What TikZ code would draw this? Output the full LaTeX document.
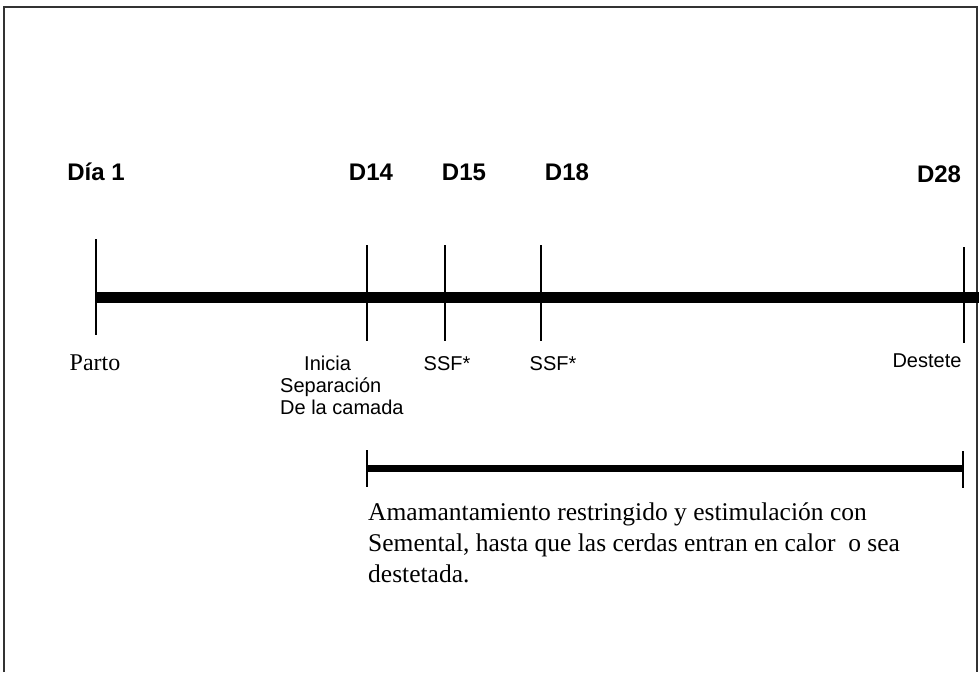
\documentclass[tikz,border=0pt]{standalone}
\usepackage{fontspec}
\setmainfont{Liberation Serif}
\setsansfont{Liberation Sans}
\usetikzlibrary{positioning}

\begin{document}
\begin{tikzpicture}[
  x=1pt, y=-1pt,
  day/.style={font=\sffamily\bfseries\fontsize{24}{26}\selectfont, anchor=base, inner sep=0pt},
  evt/.style={font=\sffamily\fontsize{20}{22}\selectfont, anchor=base, inner sep=0pt},
  note/.style={font=\fontsize{24}{26}\selectfont, anchor=base, inner sep=0pt},
  tick/.style={line width=1.2pt},
  bar/.style={line width=11pt},
  frame/.style={line width=1.2pt, black!80}
]
\useasboundingbox (0,0) rectangle (979,672);

% frame, open at the bottom
\draw[frame] (4,672) -- (4,7) -- (977,7) -- (977,672);

% days above the line
\node[day] (dia1) at (96,180) {Día 1};
\node[day] (d14) at (371,180) {D14};
\node[day] (d15) at (464,180) {D15};
\node[day] (d18) at (567,180) {D18};
\node[day] (d28) at (939,182) {D28};

% main time line
\coordinate (start) at (96,297);
\coordinate (stop) at (979,297);
\draw[bar] (start) -- (stop);

% ticks
\coordinate (t1top) at (96,239);  \coordinate (t1bot) at (96,335);
\coordinate (t14top) at (367,245); \coordinate (t14bot) at (367,341);
\coordinate (t15top) at (445,245); \coordinate (t15bot) at (445,341);
\coordinate (t18top) at (541,245); \coordinate (t18bot) at (541,341);
\coordinate (t28top) at (964,247); \coordinate (t28bot) at (964,343);
\draw[tick] (t1top) -- (t1bot);
\draw[tick] (t14top) -- (t14bot);
\draw[tick] (t15top) -- (t15bot);
\draw[tick] (t18top) -- (t18bot);
\draw[tick] (t28top) -- (t28bot);

% events below the line
\node[note] (parto) at (95,370) {Parto};
\node[evt, anchor=north west, align=left] (sep) at (280,356) {\hspace*{24pt}Inicia\\Separación\\De la camada};
\node[evt] (ssf1) at (447,370) {SSF*};
\node[evt] (ssf2) at (553,370) {SSF*};
\node[evt] (destete) at (927,367) {Destete};

% restricted nursing period
\coordinate (p1) at (367,468);
\coordinate (p2) at (963,468);
\coordinate (p1top) at (367,450); \coordinate (p1bot) at (367,487);
\coordinate (p2top) at (963,451); \coordinate (p2bot) at (963,488);
\draw[line width=7pt] (p1) -- (p2);
\draw[tick] (p1top) -- (p1bot);
\draw[tick] (p2top) -- (p2bot);

\node[anchor=north west, align=left, inner sep=0pt, font=\fontsize{25.5}{31}\selectfont] (periodo) at (368,503)
  {Amamantamiento restringido y estimulación con\\Semental, hasta que las cerdas entran en calor~ o sea\\destetada.};

\end{tikzpicture}
\end{document}
